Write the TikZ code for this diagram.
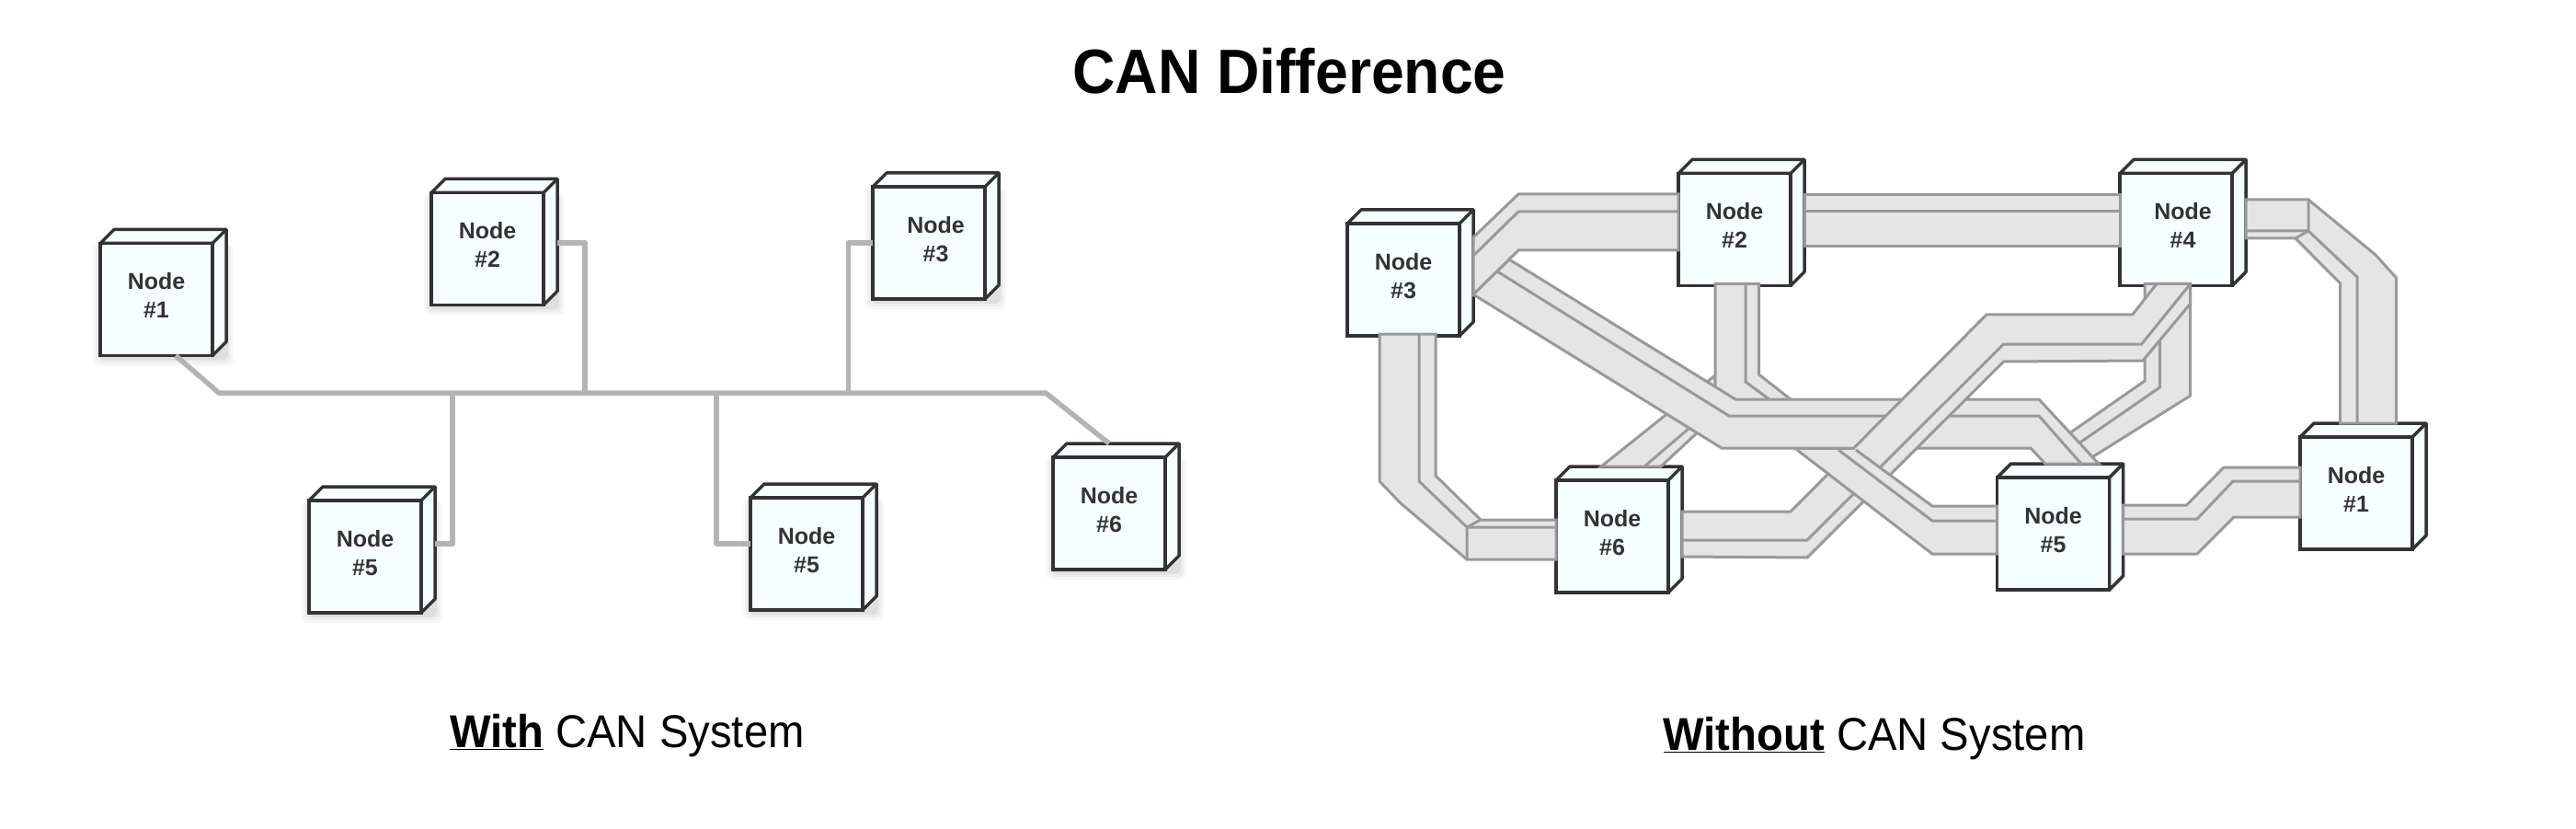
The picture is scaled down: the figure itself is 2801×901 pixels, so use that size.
\documentclass[tikz,border=0pt]{standalone}
\usepackage{xcolor}
\usepackage{fontspec}
\usepackage{tikz}
\usetikzlibrary{calc}
\setmainfont[FakeStretch=0.945]{Liberation Sans}
\newfontfamily\cubefont{Liberation Sans}
\definecolor{cubefill}{RGB}{245,255,255}
\definecolor{cubeline}{RGB}{51,51,51}
\definecolor{bandfill}{RGB}{229,229,229}
\definecolor{bandline}{RGB}{153,153,153}
\definecolor{busline}{RGB}{179,179,179}

\newcommand{\softshadow}[2]{
    \foreach \g/\o in {8/.03,5/.04,2/.06}
        \fill[black, opacity=\o, rounded corners=6pt] ({#1-61-\g},{#2-60}) rectangle ({#1+76+\g},{#2+64+\g});
}

\tikzset{
    cube/.style={draw=cubeline, line width=3.5pt, fill=cubefill, text=cubeline,
        minimum width=122pt, minimum height=122pt, inner sep=0pt, outer sep=0pt, align=center,
        text depth=9pt, font=\fontsize{25}{31}\selectfont\cubefont\bfseries,
        append after command={\pgfextra{
            \draw[cubeline, line width=3.5pt, line join=round, fill=cubefill]
                (\tikzlastnode.north west) -- ++(15,-15) -- ($(\tikzlastnode.north east)+(15,-15)$)
                -- ($(\tikzlastnode.south east)+(15,-15)$) -- (\tikzlastnode.south east)
                -- (\tikzlastnode.north east) -- cycle;
            \draw[cubeline, line width=3.5pt] (\tikzlastnode.north east) -- ++(15,-15);
            \coordinate (\tikzlastnode-side) at ($(\tikzlastnode.east)+(15,0)$);
            \coordinate (\tikzlastnode-top) at ($(\tikzlastnode.north)+(0,-15)$);
            \coordinate (\tikzlastnode-foot) at ($(\tikzlastnode.south)+(0,-2)$);
        }}},
    band/.style={draw=bandline, line width=3pt, line join=miter, fill=bandfill},
    seam/.style={draw=bandline, line width=3pt},
    bus/.style={draw=busline, line width=5.5pt, line join=round},
    heading/.style={anchor=base, text=black}
}

\begin{document}
\begin{tikzpicture}[x=1pt, y=-1pt]
    \useasboundingbox (0,0) rectangle (2801,901);

    \node[heading, font=\fontsize{68}{68}\selectfont\bfseries] (title) at (1402,101.7) {CAN Difference};
    \node[heading, font=\fontsize{50}{50}\selectfont] (withcap) at (682,812) {\underline{\textbf{With}} CAN System};
    \node[heading, font=\fontsize{50}{50}\selectfont] (withoutcap) at (2038,815) {\underline{\textbf{Without}} CAN System};

    \softshadow{170}{325.5}
    \softshadow{530}{270.5}
    \softshadow{1010}{264}
    \softshadow{397}{605}
    \softshadow{877}{602}
    \softshadow{1206}{558}

    \node[cube] (l1) at (170,325.5) {Node\\\#1};
    \node[cube] (l2) at (530,270.5) {Node\\\#2};
    \node[cube] (l3) at (1010,264) {\hspace*{15pt}Node\\\hspace*{15pt}\#3};
    \node[cube] (l5a) at (397,605) {Node\\\#5};
    \node[cube] (l5b) at (877,602) {Node\\\#5};
    \node[cube] (l6) at (1206,558) {Node\\\#6};

    \coordinate (busleft) at (238,427);
    \coordinate (busright) at (1137,427);
    \coordinate (joina) at (492,427);
    \coordinate (joinb) at (636,427);
    \coordinate (joinc) at (779,427);
    \coordinate (joind) at (922.6,427);

    \draw[bus] ([xshift=21pt]l1.south) -- (busleft) -- (busright) -- (l6-top);
    \draw[bus] (l2-side |- 0,264) -| (joinb);
    \draw[bus] (l3.west) -| (joind);
    \draw[bus] (l5a-side |- 0,591) -| (joina);
    \draw[bus] (l5b.west |- 0,591) -| (joinc);

    \node[cube] (r1) at (2562,536) {Node\\\#1};
    \node[cube] (r2) at (1886,249.5) {Node\\\#2};
    \node[cube] (r3) at (1526,304) {Node\\\#3};
    \node[cube] (r4) at (2366,249.5) {\hspace*{15pt}Node\\\hspace*{15pt}\#4};
    \node[cube] (r5) at (2232.5,580) {Node\\\#5};
    \node[cube] (r6) at (1753,583) {Node\\\#6};

    % r6 to r2
    \draw[band] (r6-top -| 1741,0) -- (1865,408) -- (1865,452) -- (r6-top -| 1806,0) -- cycle;
    \draw[seam] (r6-top -| 1788,0) -- (1850,454);

    % r2 to r5, upper part
    \draw[band] (r2-foot -| 1865,0) -- (1865,421) -- (1952,488) -- (2016,488) -- (1912.5,407) -- (r2-foot -| 1912.5,0) -- cycle;
    \draw[seam] (r2-foot -| 1898,0) -- (1898,415) -- (1997,488);

    % r4 to r5
    \draw[band] (r4-foot -| 2332,0) -- (2332,414) -- (2240,478) -- (2262,505) -- (2381.7,430) -- (r4-foot -| 2381.7,0) -- cycle;
    \draw[seam] (2348.5,340) -- (2348.5,421) -- (2250,489);

    % r3 to r5
    \draw[band] (r3-side |- 0,320) -- (1872,487) -- (2208,487) -- (r5-top -| 2224,0) -- (r5-top -| 2282,0) -- (2217,434) -- (1887,434) -- (1641,282) -- cycle;
    \draw[seam] (1628,295) -- (1880,452) -- (2217,452) -- (r5-top -| 2263,0);

    % r6 to r4
    \draw[band] (r6-side |- 0,556) -- (1947,556) -- (2160,342) -- (2318.7,342) -- (r4-foot -| 2345,0) -- (r4-foot -| 2381.7,0) -- (2381.7,330) -- (2330,392) -- (2178.5,393) -- (1965,606) -- (r6-side |- 0,605) -- cycle;
    \draw[seam] (r6-side |- 0,587) -- (1965,587) -- (2178.5,374) -- (2328.6,374) -- (r4-foot -| 2381.7,0);

    % r2 to r5, lower part
    \fill[bandfill] (1954,489) -- (2101,602) -- (r5.west |- 0,602) -- (r5.west |- 0,550) -- (2101,550) -- (2018,489) -- cycle;
    \draw[seam] (1954,489) -- (2101,602) -- (r5.west |- 0,602) -- (r5.west |- 0,550) -- (2101,550) -- (2018,489);
    \draw[seam] (1999,489) -- (2101,566) -- (r5.west |- 0,566);

    % r3 to r2
    \draw[band] (r3-side |- 0,258) -- (1651,211) -- (r2.west |- 0,211) -- (r2.west |- 0,272) -- (1651,272) -- (r3-side |- 0,320) -- cycle;
    \draw[seam] (r3-side |- 0,278) -- (1651,230) -- (r2.west |- 0,230);

    % r2 to r4
    \draw[band] (r2-side |- 0,212) -- (r4.west |- 0,212) -- (r4.west |- 0,268) -- (r2-side |- 0,268) -- cycle;
    \draw[seam] (r2-side |- 0,230) -- (r4.west |- 0,230);

    % r4 to r1
    \draw[band] (r4-side |- 0,217) -- (2510,217) -- (2583,277) -- (2605.6,302) -- (r1-top -| 2605.6,0) -- (r1-top -| 2544.6,0) -- (2544.6,308) -- (2496,259) -- (r4-side |- 0,259) -- cycle;
    \draw[seam] (r4-side |- 0,251) -- (2510,251) -- (2563,301) -- (r1-top -| 2563,0);
    \draw[seam] (2510,217) -- (2510,251) -- (2496,259);

    % r3 to r6
    \draw[band] (r3-foot -| 1500,0) -- (1500,523) -- (1523,547) -- (1595,608) -- (r6.west |- 0,608) -- (r6.west |- 0,565) -- (1610,565) -- (1561,517) -- (r3-foot -| 1561,0) -- cycle;
    \draw[seam] (r3-foot -| 1543,0) -- (1543,523) -- (1595,573) -- (r6.west |- 0,573);
    \draw[seam] (1595,608) -- (1595,573) -- (1610,565);

    % r5 to r1
    \draw[band] (r5-side |- 0,549) -- (2377.5,549) -- (2418,508) -- (r1.west |- 0,508) -- (r1.west |- 0,562) -- (2429,562) -- (2389,602) -- (r5-side |- 0,602) -- cycle;
    \draw[seam] (r5-side |- 0,564) -- (2389,564) -- (2428,523) -- (r1.west |- 0,523);
\end{tikzpicture}
\end{document}
